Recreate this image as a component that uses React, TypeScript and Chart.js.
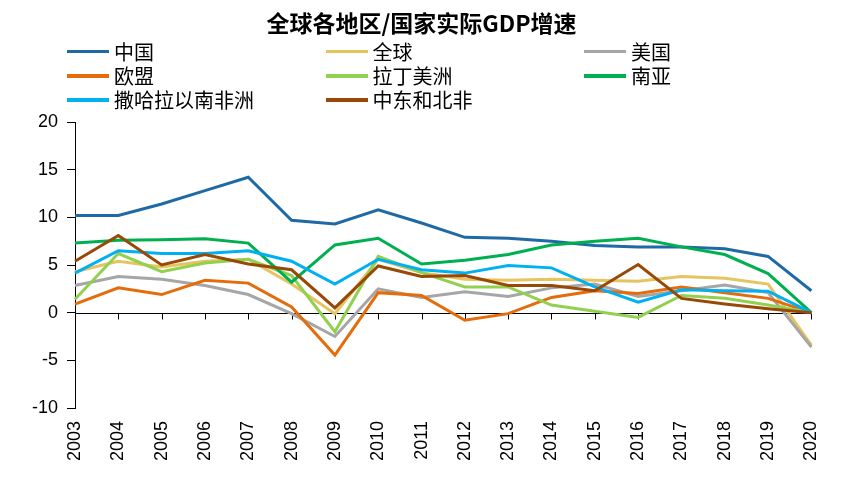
import React, { useEffect, useRef } from "react";
import { Chart, registerables } from "chart.js";

Chart.register(...registerables);

const years = ["2003","2004","2005","2006","2007","2008","2009","2010","2011","2012","2013","2014","2015","2016","2017","2018","2019","2020"];

const china = [10.2, 10.2, 11.4, 12.8, 14.2, 9.7, 9.3, 10.8, 9.4, 7.9, 7.8, 7.5, 7.05, 6.9, 6.9, 6.7, 5.9, 2.3];
const world = [4.3, 5.4, 4.8, 5.4, 5.6, 3.0, -0.1, 5.6, 4.2, 3.5, 3.4, 3.5, 3.4, 3.3, 3.8, 3.6, 3.0, -3.4];
const usa = [2.85, 3.8, 3.5, 2.85, 1.9, -0.1, -2.5, 2.5, 1.6, 2.2, 1.7, 2.6, 3.0, 1.7, 2.3, 2.9, 2.1, -3.6];
const eu = [0.9, 2.6, 1.9, 3.4, 3.1, 0.6, -4.45, 2.1, 1.8, -0.8, -0.1, 1.6, 2.3, 2.0, 2.7, 2.1, 1.5, 0.0];
const latam = [1.4, 6.2, 4.3, 5.2, 5.6, 3.9, -2.0, 5.9, 4.2, 2.7, 2.7, 0.8, 0.15, -0.5, 1.8, 1.5, 0.8, 0.0];
const southAsia = [7.3, 7.6, 7.65, 7.75, 7.3, 3.2, 7.1, 7.8, 5.1, 5.5, 6.1, 7.1, 7.5, 7.8, 6.9, 6.1, 4.1, 0.0];
const ssa = [4.15, 6.5, 6.2, 6.2, 6.5, 5.4, 3.0, 5.6, 4.5, 4.15, 4.95, 4.7, 2.7, 1.1, 2.4, 2.3, 2.25, 0.0];
const mena = [5.4, 8.1, 5.0, 6.1, 5.1, 4.5, 0.5, 4.9, 3.8, 3.9, 2.85, 2.85, 2.3, 5.05, 1.5, 0.9, 0.4, 0.0];

const seriesNames = ["中国", "全球", "美国", "欧盟", "拉丁美洲", "南亚", "撒哈拉以南非洲", "中东和北非"];
const seriesData = [china, world, usa, eu, latam, southAsia, ssa, mena];
const seriesColors = ["#1F6AA5", "#E6C45F", "#A6A6A6", "#E46C0A", "#92D050", "#00B050", "#00B0F0", "#984807"];

const yTicks = [-10, -5, 0, 5, 10, 15, 20];
const title = "全球各地区/国家实际GDP增速";

const zeroLinePlugin = {
  id: "zeroLine",
  beforeDatasetsDraw(chart: any) {
    const { ctx, chartArea, scales } = chart;
    const y0 = Math.round(scales.y.getPixelForValue(0)) + 0.5;
    ctx.save();
    ctx.strokeStyle = "#000";
    ctx.lineWidth = 1;
    ctx.beginPath();
    ctx.moveTo(chartArea.left, y0);
    ctx.lineTo(chartArea.right, y0);
    years.forEach((_, i) => {
      const x = Math.round(scales.x.getPixelForValue(i)) + 0.5;
      ctx.moveTo(x, y0);
      ctx.lineTo(x, y0 + 6);
    });
    ctx.stroke();
    ctx.restore();
  },
};

export default function App() {
  const ref = useRef<HTMLCanvasElement | null>(null);

  useEffect(() => {
    if (!ref.current) return;
    const chart = new Chart(ref.current, {
      type: "line",
      data: {
        labels: years,
        datasets: seriesNames.map((name, i) => ({
          label: name,
          data: seriesData[i],
          borderColor: seriesColors[i],
          backgroundColor: seriesColors[i],
          borderWidth: 3,
          pointRadius: 0,
          tension: 0,
          fill: false,
          order: 20 - i,
        })),
      },
      options: {
        responsive: false,
        animation: false,
        layout: { padding: { top: 122, right: 33, bottom: 0, left: 0 } },
        plugins: {
          legend: { display: false },
          title: { display: false },
          tooltip: { enabled: false },
        },
        scales: {
          x: {
            offset: false,
            border: { display: false },
            grid: { display: false, drawTicks: false },
            ticks: {
              minRotation: 90,
              maxRotation: 90,
              autoSkip: false,
              padding: 13,
              color: "#000",
              font: { family: "'Liberation Sans', Arial, sans-serif", size: 18 },
            },
            afterFit(scale: any) {
              scale.height = 69;
            },
          },
          y: {
            min: -10,
            max: 20,
            afterBuildTicks(scale: any) {
              scale.ticks = yTicks.map((v) => ({ value: v }));
            },
            border: { display: true, color: "#000", width: 1 },
            grid: { drawOnChartArea: false, drawTicks: true, tickLength: 8, color: "#000" },
            ticks: {
              padding: 9,
              color: "#000",
              font: { family: "'Liberation Sans', Arial, sans-serif", size: 18 },
            },
            afterFit(scale: any) {
              scale.width = 75;
            },
          },
        },
      },
      plugins: [zeroLinePlugin],
    });
    return () => chart.destroy();
  }, []);

  return (
    <div style={{ position: "absolute", left: 0, top: 0, width: 846, height: 477, background: "#fff", overflow: "hidden" }}>
      <canvas ref={ref} width={846} height={477} style={{ position: "absolute", left: 0, top: 0, width: 846, height: 477 }} />
      <div
        style={{
          position: "absolute",
          left: 0,
          width: 843,
          top: 7,
          textAlign: "center",
          fontFamily: "'Noto Sans CJK SC', sans-serif",
          fontWeight: "bold",
          fontSize: 23,
          lineHeight: "30px",
          color: "#000",
        }}
      >
        {title}
      </div>
      {seriesNames.map((name, i) => {
        const col = i % 3;
        const row = Math.floor(i / 3);
        return (
          <div
            key={name}
            style={{
              position: "absolute",
              left: 67 + col * 258.5,
              top: 51.5 + row * 24.3 - 13,
              height: 26,
              display: "flex",
              alignItems: "center",
              fontFamily: "'Noto Sans CJK SC', sans-serif",
              fontSize: 20,
              color: "#000",
              whiteSpace: "nowrap",
            }}
          >
            <span style={{ display: "inline-block", width: 42, height: 3.5, background: seriesColors[i], marginRight: 5 }} />
            <span style={{ lineHeight: "26px" }}>{name}</span>
          </div>
        );
      })}
    </div>
  );
}
